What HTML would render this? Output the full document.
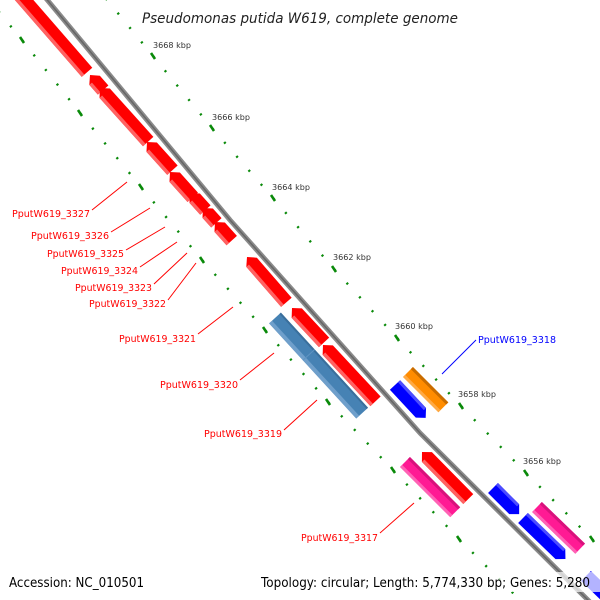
<!DOCTYPE html>
<html><head><meta charset="utf-8"><style>
html,body{margin:0;padding:0;background:#fff;width:600px;height:600px;overflow:hidden}
svg{display:block}
.lab{font-family:"DejaVu Sans","Liberation Sans",sans-serif;font-size:10px;fill:#ff0000}
.kbp{font-family:"DejaVu Sans","Liberation Sans",sans-serif;font-size:7.5px;fill:#333}
</style></head><body>
<svg width="600" height="600" viewBox="0 0 600 600" xmlns="http://www.w3.org/2000/svg">
<!-- tick lines: minor dots -->
<g stroke="#0a8a0a" stroke-width="2.4" fill="none">
<g stroke-dasharray="0.11 0.89">
<line x1="94" y1="-16" x2="153" y2="56" pathLength="5"/>
<line x1="153" y1="56" x2="212" y2="128" pathLength="5"/>
<line x1="212" y1="128" x2="273" y2="198" pathLength="5"/>
<line x1="273" y1="198" x2="334" y2="269" pathLength="5"/>
<line x1="334" y1="269" x2="397" y2="338" pathLength="5"/>
<line x1="397" y1="338" x2="461" y2="406" pathLength="5"/>
<line x1="461" y1="406" x2="526" y2="473" pathLength="5"/>
<line x1="526" y1="473" x2="592" y2="539" pathLength="5"/>
<line x1="592" y1="539" x2="658" y2="605" pathLength="5"/>
<line x1="-37" y1="-32" x2="22" y2="40" pathLength="5"/>
<line x1="22" y1="40" x2="80" y2="113" pathLength="5"/>
<line x1="80" y1="113" x2="141" y2="187" pathLength="5"/>
<line x1="141" y1="187" x2="202" y2="260" pathLength="5"/>
<line x1="202" y1="260" x2="265" y2="330" pathLength="5"/>
<line x1="265" y1="330" x2="328" y2="402" pathLength="5"/>
<line x1="328" y1="402" x2="393" y2="470" pathLength="5"/>
<line x1="393" y1="470" x2="459" y2="539" pathLength="5"/>
<line x1="459" y1="539" x2="525" y2="605" pathLength="5"/>
</g>
<g stroke-width="2.6">
<line x1="151" y1="53" x2="155" y2="59"/>
<line x1="210" y1="125" x2="214" y2="131"/>
<line x1="271" y1="195" x2="275" y2="201"/>
<line x1="332" y1="266" x2="336" y2="272"/>
<line x1="395" y1="335" x2="399" y2="341"/>
<line x1="459" y1="403" x2="463" y2="409"/>
<line x1="524" y1="470" x2="528" y2="476"/>
<line x1="590" y1="536" x2="594" y2="542"/>
<line x1="20" y1="37" x2="24" y2="43"/>
<line x1="78" y1="110" x2="82" y2="116"/>
<line x1="139" y1="184" x2="143" y2="190"/>
<line x1="200" y1="257" x2="204" y2="263"/>
<line x1="263" y1="327" x2="267" y2="333"/>
<line x1="326" y1="399" x2="330" y2="405"/>
<line x1="391" y1="467" x2="395" y2="473"/>
<line x1="457" y1="536" x2="461" y2="542"/>
</g>
</g>
<!-- backbone -->
<path d="M44,-4 L230,220 L420,433 L604,616" stroke="#8a8a8a" stroke-width="5" fill="none" stroke-linejoin="round"/>
<path d="M44,-4 L230,220 L420,433 L604,616" stroke="#666" stroke-width="1.5" fill="none" stroke-linejoin="round"/>

<!-- reverse red genes: arrow at x=0 -->
<g transform="translate(5,-22) rotate(49)"><polygon points="0,0 7,-7 125,-7 125,7 7,7" fill="#f00"/><rect x="7" y="3.5" width="118" height="3.5" fill="#ff6262"/></g>
<g transform="translate(90,75) rotate(49)"><polygon points="0,0 7,-7 20,-7 20,7 7,7" fill="#f00"/><rect x="7" y="3.5" width="13" height="3.5" fill="#ff6262"/></g>
<g transform="translate(100,88) rotate(48)"><polygon points="0,0 7,-7 72,-7 72,7 7,7" fill="#f00"/><rect x="7" y="3.5" width="65" height="3.5" fill="#ff6262"/></g>
<g transform="translate(147,142) rotate(48)"><polygon points="0,0 7,-7 38,-7 38,7 7,7" fill="#f00"/><rect x="7" y="3.5" width="31" height="3.5" fill="#ff6262"/></g>
<g transform="translate(170,172) rotate(48)"><polygon points="0,0 7,-7 34,-7 34,7 7,7" fill="#f00"/><rect x="7" y="3.5" width="27" height="3.5" fill="#ff6262"/></g>
<g transform="translate(190,193) rotate(48)"><polygon points="0,0 7,-7 23,-7 23,7 7,7" fill="#f00"/><rect x="7" y="3.5" width="16" height="3.5" fill="#ff6262"/></g>
<g transform="translate(203,208) rotate(48)"><polygon points="0,0 7,-7 20,-7 20,7 7,7" fill="#f00"/><rect x="7" y="3.5" width="13" height="3.5" fill="#ff6262"/></g>
<g transform="translate(215,222) rotate(48)"><polygon points="0,0 7,-7 25,-7 25,7 7,7" fill="#f00"/><rect x="7" y="3.5" width="18" height="3.5" fill="#ff6262"/></g>
<g transform="translate(247,257) rotate(49)"><polygon points="0,0 7,-7 60,-7 60,7 7,7" fill="#f00"/><rect x="7" y="3.5" width="53" height="3.5" fill="#ff6262"/></g>
<g transform="translate(292,308) rotate(47)"><polygon points="0,0 7,-7 47,-7 47,7 7,7" fill="#f00"/><rect x="7" y="3.5" width="40" height="3.5" fill="#ff6262"/></g>
<g transform="translate(323,345) rotate(47)"><polygon points="0,0 7,-7 77,-7 77,7 7,7" fill="#f00"/><rect x="7" y="3.5" width="70" height="3.5" fill="#ff6262"/></g>
<g transform="translate(422,452) rotate(45.5)"><polygon points="0,0 7,-7 66,-7 66,7 7,7" fill="#f00"/><rect x="7" y="3.5" width="59" height="3.5" fill="#ff6262"/></g>

<!-- steel blue -->
<g transform="translate(275,318) rotate(47.5)"><rect x="0" y="-8" width="129" height="16" fill="#4682b4"/><rect x="0" y="4" width="129" height="4" fill="#6f9fcb"/><rect x="0" y="-8" width="129" height="2" fill="#3a6f9c"/><line x1="50" y1="-8" x2="50" y2="8" stroke="#5f94c2" stroke-width="1"/></g>
<!-- pink -->
<g transform="translate(405,462) rotate(45)"><rect x="0" y="-7" width="71" height="14" fill="#ff1a94"/><rect x="0" y="-7" width="71" height="3" fill="#d8127c"/><rect x="0" y="4" width="71" height="3" fill="#ff62b5"/></g>
<g transform="translate(537,507) rotate(44)"><rect x="0" y="-7" width="60" height="14" fill="#ff1a94"/><rect x="0" y="-7" width="60" height="3" fill="#d8127c"/><rect x="0" y="4" width="60" height="3" fill="#ff62b5"/></g>
<!-- orange -->
<g transform="translate(408,372) rotate(45)"><rect x="0" y="-7" width="50" height="14" fill="#ff8c00"/><rect x="0" y="-7" width="50" height="3" fill="#c86c00"/><rect x="0" y="4" width="50" height="3" fill="#ffaa44"/></g>
<!-- forward blue genes -->
<g transform="translate(395,385) rotate(47)"><polygon points="0,-7 38,-7 45,0 38,7 0,7" fill="#00f"/><rect x="0" y="-7" width="38" height="3" fill="#4d4dff"/></g>
<g transform="translate(493,488) rotate(45)"><polygon points="0,-7 30,-7 37,0 30,7 0,7" fill="#00f"/><rect x="0" y="-7" width="30" height="3" fill="#4d4dff"/></g>
<g transform="translate(523,518) rotate(44)"><polygon points="0,-7 52,-7 59,0 52,7 0,7" fill="#00f"/><rect x="0" y="-7" width="52" height="3" fill="#4d4dff"/></g>
<g transform="translate(586,576) rotate(44)"><polygon points="0,-7 30,-7 37,0 30,7 0,7" fill="#00f"/></g>

<!-- title -->
<text x="142" y="23" font-family="DejaVu Sans, Liberation Sans, sans-serif" font-style="italic" font-size="14" fill="#222" textLength="316" lengthAdjust="spacingAndGlyphs">Pseudomonas putida W619, complete genome</text>
<!-- kbp labels -->
<text class="kbp" x="153" y="48" textLength="38" lengthAdjust="spacingAndGlyphs">3668 kbp</text>
<text class="kbp" x="212" y="120" textLength="38" lengthAdjust="spacingAndGlyphs">3666 kbp</text>
<text class="kbp" x="272" y="190" textLength="38" lengthAdjust="spacingAndGlyphs">3664 kbp</text>
<text class="kbp" x="333" y="260" textLength="38" lengthAdjust="spacingAndGlyphs">3662 kbp</text>
<text class="kbp" x="395" y="329" textLength="38" lengthAdjust="spacingAndGlyphs">3660 kbp</text>
<text class="kbp" x="458" y="397" textLength="38" lengthAdjust="spacingAndGlyphs">3658 kbp</text>
<text class="kbp" x="523" y="464" textLength="38" lengthAdjust="spacingAndGlyphs">3656 kbp</text>

<!-- gene labels -->
<g stroke="#ff0000" stroke-width="1">
<line x1="92" y1="210" x2="127" y2="182"/>
<line x1="111" y1="232" x2="150" y2="208"/>
<line x1="126" y1="250" x2="165" y2="227"/>
<line x1="140" y1="267" x2="177" y2="242"/>
<line x1="154" y1="284" x2="187" y2="253"/>
<line x1="168" y1="300" x2="196" y2="263"/>
<line x1="198" y1="334" x2="233" y2="307"/>
<line x1="240" y1="380" x2="274" y2="353"/>
<line x1="284" y1="430" x2="317" y2="400"/>
<line x1="380" y1="533" x2="414" y2="503"/>
</g>
<line x1="442" y1="374" x2="476" y2="340" stroke="#0000ff" stroke-width="1"/>
<text class="lab" x="12" y="217" textLength="78" lengthAdjust="spacingAndGlyphs">PputW619_3327</text>
<text class="lab" x="31" y="239" textLength="78" lengthAdjust="spacingAndGlyphs">PputW619_3326</text>
<text class="lab" x="47" y="257" textLength="77" lengthAdjust="spacingAndGlyphs">PputW619_3325</text>
<text class="lab" x="61" y="274" textLength="77" lengthAdjust="spacingAndGlyphs">PputW619_3324</text>
<text class="lab" x="75" y="291" textLength="77" lengthAdjust="spacingAndGlyphs">PputW619_3323</text>
<text class="lab" x="89" y="307" textLength="77" lengthAdjust="spacingAndGlyphs">PputW619_3322</text>
<text class="lab" x="119" y="342" textLength="77" lengthAdjust="spacingAndGlyphs">PputW619_3321</text>
<text class="lab" x="160" y="388" textLength="78" lengthAdjust="spacingAndGlyphs">PputW619_3320</text>
<text class="lab" x="204" y="437" textLength="78" lengthAdjust="spacingAndGlyphs">PputW619_3319</text>
<text class="lab" x="301" y="541" textLength="77" lengthAdjust="spacingAndGlyphs">PputW619_3317</text>
<text class="lab" x="478" y="343" textLength="78" lengthAdjust="spacingAndGlyphs" style="fill:#0000ff">PputW619_3318</text>

<!-- footer -->
<rect x="0" y="572" width="600" height="20" fill="#fff" fill-opacity="0.7"/>
<text x="9" y="587" font-family="DejaVu Sans, Liberation Sans, sans-serif" font-size="13" fill="#000" textLength="135" lengthAdjust="spacingAndGlyphs">Accession: NC_010501</text>
<text x="261" y="587" font-family="DejaVu Sans, Liberation Sans, sans-serif" font-size="13" fill="#000" textLength="329" lengthAdjust="spacingAndGlyphs">Topology: circular; Length: 5,774,330 bp; Genes: 5,280</text>
</svg>
</body></html>
